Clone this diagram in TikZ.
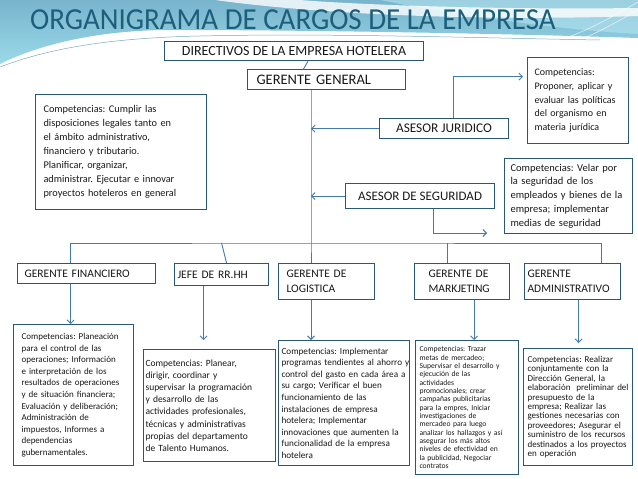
\documentclass[tikz,border=0pt]{standalone}
\usepackage{fontspec}
\setmainfont{Carlito}
\usetikzlibrary{arrows.meta}
\definecolor{bd}{HTML}{2A5677}
\definecolor{cn}{HTML}{4479AC}
\definecolor{tt}{HTML}{1D5E7B}
\definecolor{bgA}{HTML}{78B4CC}
\definecolor{bgB}{HTML}{9AD9EA}
\definecolor{bgC}{HTML}{B4E4F0}
\frenchspacing
\begin{document}
\frenchspacing
\begin{tikzpicture}[x=1pt,y=-1pt,
  box/.style={draw=bd, line width=1.1pt, anchor=north west, inner ysep=0pt, text=black!90},
  conn/.style={draw=cn, line width=0.9pt},
  arr/.style={-{Straight Barb[length=3.5pt,width=7pt]}},
  arl/.style={{Straight Barb[length=3.5pt,width=7pt]}-}]
\useasboundingbox (0,0) rectangle (638,479);
% background
\fill[white] (0,0) rectangle (638,479);
\shade[top color=bgA, bottom color=bgB] (0,0) -- (638,0) -- (638,38) .. controls (520,34) and (320,30) .. (170,30) .. controls (100,30) and (40,44) .. (0,64) -- cycle;
\fill[bgC, opacity=0.6] (380,0) .. controls (450,14) and (560,30) .. (638,34) -- (638,0) -- cycle;
\fill[white, opacity=0.8] (215,0) .. controls (300,12) and (460,22) .. (638,16) -- (638,8) .. controls (480,10) and (350,4) .. (300,0) -- cycle;
\draw[white, opacity=0.7, line width=0.6pt] (560,40) .. controls (590,30) and (615,15) .. (638,2);
\draw[white, opacity=0.7, line width=0.6pt] (575,42) .. controls (600,32) and (620,20) .. (638,10);
\draw[bgA!80!gray, line width=0.5pt] (0,67) .. controls (50,48) and (110,38) .. (200,36) .. controls (330,33) and (480,38) .. (600,40);
% title
\node[anchor=west, text=tt, font=\fontsize{30.5}{30.5}\selectfont, inner sep=0pt, xscale=0.95] (title) at (30,20) {ORGANIGRAMA DE CARGOS DE LA EMPRESA};
% top boxes
\node[box, minimum width=259, minimum height=19, font=\fontsize{14}{14}\selectfont, align=center] (dir) at (164,41) {DIRECTIVOS DE LA EMPRESA HOTELERA};
\node[box, minimum width=158, minimum height=20, text width=140, inner xsep=9, font=\fontsize{14.5}{14.5}\selectfont, align=left] (gg) at (247,69) {GERENTE GENERAL};
\node[box, minimum width=171, minimum height=115, text width=155, inner xsep=8, font=\fontsize{10.3}{14}\selectfont, align=left] (cgg) at (35,94) {Competencias: Cumplir las\\disposiciones legales tanto en\\el ámbito administrativo,\\financiero y tributario.\\Planificar, organizar,\\administrar. Ejecutar e innovar\\proyectos hoteleros en general};
\node[box, minimum width=129, minimum height=20, font=\fontsize{13.3}{13.3}\selectfont, align=center] (aj) at (379,118) {ASESOR JURIDICO};
\node[box, minimum width=101, minimum height=86, text width=87, inner xsep=7, font=\fontsize{10}{13.8}\selectfont, align=left] (cj) at (527,57) {Competencias:\\Proponer, aplicar y\\evaluar las políticas\\del organismo en\\materia jurídica};
\node[box, minimum width=149, minimum height=25, font=\fontsize{13}{13}\selectfont, align=center] (as) at (345,183) {ASESOR DE SEGURIDAD};
\node[box, minimum width=128, minimum height=75, text width=116, inner xsep=6, font=\fontsize{10.5}{13.8}\selectfont, align=left] (cs) at (504,158) {Competencias: Velar por\\la seguridad de los\\empleados y bienes de la\\empresa; implementar\\medias de seguridad};
% level 2
\node[box, minimum width=138, minimum height=20, text width=130, inner xsep=4, font=\fontsize{11.5}{11.5}\selectfont, align=left] (gf) at (17,263) {\hspace{3pt}GERENTE FINANCIERO};
\node[box, minimum width=94, minimum height=22, text width=88, inner xsep=3, font=\fontsize{11.5}{11.5}\selectfont, align=left] (rh) at (174,263) {JEFE DE RR.HH};
\node[box, minimum width=96, minimum height=36, text width=80, inner xsep=8, font=\fontsize{11.5}{15}\selectfont, align=left] (log) at (278,263) {GERENTE DE\\LOGISTICA};
\node[box, minimum width=95, minimum height=36, text width=67, inner xsep=14, font=\fontsize{11.5}{15}\selectfont, align=left] (mkt) at (414,263) {GERENTE DE\\MARKJETING};
\node[box, minimum width=96, minimum height=36, text width=90, inner xsep=3, font=\fontsize{11.5}{15}\selectfont, align=left] (adm) at (524,263) {GERENTE\\\mbox{ADMINISTRATIVO}};
% bottom competencies
\node[box, minimum width=120, minimum height=141, text width=104, inner xsep=8, font=\fontsize{9}{11.6}\selectfont, align=left] (cf) at (13,324) {Competencias: Planeación\\para el control de las\\operaciones; Información\\e interpretación de los\\resultados de operaciones\\y de situación financiera;\\Evaluación y deliberación;\\Administración de\\impuestos, Informes a\\dependencias\\gubernamentales.};
\node[box, minimum width=132, minimum height=112, text width=128, inner xsep=2, font=\fontsize{9.5}{12.2}\selectfont, align=left] (crh) at (143,349) {Competencias: Planear,\\dirigir, coordinar y\\supervisar la programación\\y desarrollo de las\\actividades profesionales,\\técnicas y administrativas\\propias del departamento\\de Talento Humanos.};
\node[box, minimum width=131, minimum height=125, text width=125, inner xsep=3, font=\fontsize{9.2}{11.6}\selectfont, align=left] (clog) at (278,340) {Competencias: Implementar\\\mbox{programas tendientes al ahorro y}\\control del gasto en cada área a\\su cargo; Verificar el buen\\funcionamiento de las\\instalaciones de empresa\\hotelera; Implementar\\innovaciones que aumenten la\\funcionalidad de la empresa\\hotelera};
\node[box, minimum width=103, minimum height=134, text width=95, inner xsep=4, font=\fontsize{7.6}{8.35}\selectfont, align=left] (cmkt) at (415,340) {Competencias: Trazar\\metas de mercadeo;\\\mbox{Supervisar el desarrollo y}\\ejecución de las\\actividades\\promocionales; crear\\campañas publicitarias\\para la empres, Iniciar\\investigaciones de\\mercadeo para luego\\\mbox{analizar los hallazgos y así}\\asegurar los más altos\\\mbox{niveles de efectividad en}\\la publicidad, Negociar\\contratos};
\node[box, minimum width=109, minimum height=117, text width=101, inner xsep=4, font=\fontsize{9}{9.4}\selectfont, align=left] (cadm) at (523,348) {\mbox{Competencias: Realizar}\\\mbox{conjuntamente con la}\\\mbox{Dirección General, la}\\\mbox{elaboración \ preliminar del}\\\mbox{presupuesto de la}\\\mbox{empresa; Realizar las}\\\mbox{gestiones necesarias con}\\\mbox{proveedores; Asegurar el}\\\mbox{suministro de los recursos}\\\mbox{destinados a los proyectos}\\\mbox{en operación}};
% connectors
\coordinate (trunk) at (311,243);
\coordinate (segend) at (487,233);
\draw[conn] ([xshift=14pt]dir.south) -- ([xshift=-23pt]gg.north);
\draw[conn] (gg.south -| trunk) -- (trunk) -- (log.north -| trunk);
\draw[conn, arl] (trunk |- aj.west) -- (aj.west);
\draw[conn, arl] (trunk |- as.west) -- (as.west);
\draw[conn, arr] ([xshift=9pt]aj.north) |- ([yshift=24pt, xshift=-4pt]cj.west);
\draw[conn, arr] ([xshift=13pt]as.south) |- (segend);
\draw[conn] ([xshift=-16pt]gf.north) |- (trunk) -| ([xshift=29pt]adm.north);
\draw[conn] (rh.north |- trunk) -- ([xshift=5pt]rh.north);
\draw[conn] ([xshift=-15pt]mkt.north |- trunk) -- ([xshift=-15pt]mkt.north);
\draw[conn, arr] ([xshift=-16pt]gf.south) -- ([xshift=-16pt]gf.south |- cf.north);
\draw[conn, arr] ([xshift=-18pt]rh.south) -- ([xshift=-18pt,yshift=9pt]rh.south |- crh.north);
\draw[conn, arr] (log.south -| trunk) -- (clog.north -| trunk);
\draw[conn, arr] ([xshift=12pt]mkt.south) -- ([xshift=12pt]mkt.south |- cmkt.north);
\draw[conn, arr] ([xshift=6pt]adm.south) -- ([xshift=6pt,yshift=5pt]adm.south |- cadm.north);
\end{tikzpicture}
\end{document}
